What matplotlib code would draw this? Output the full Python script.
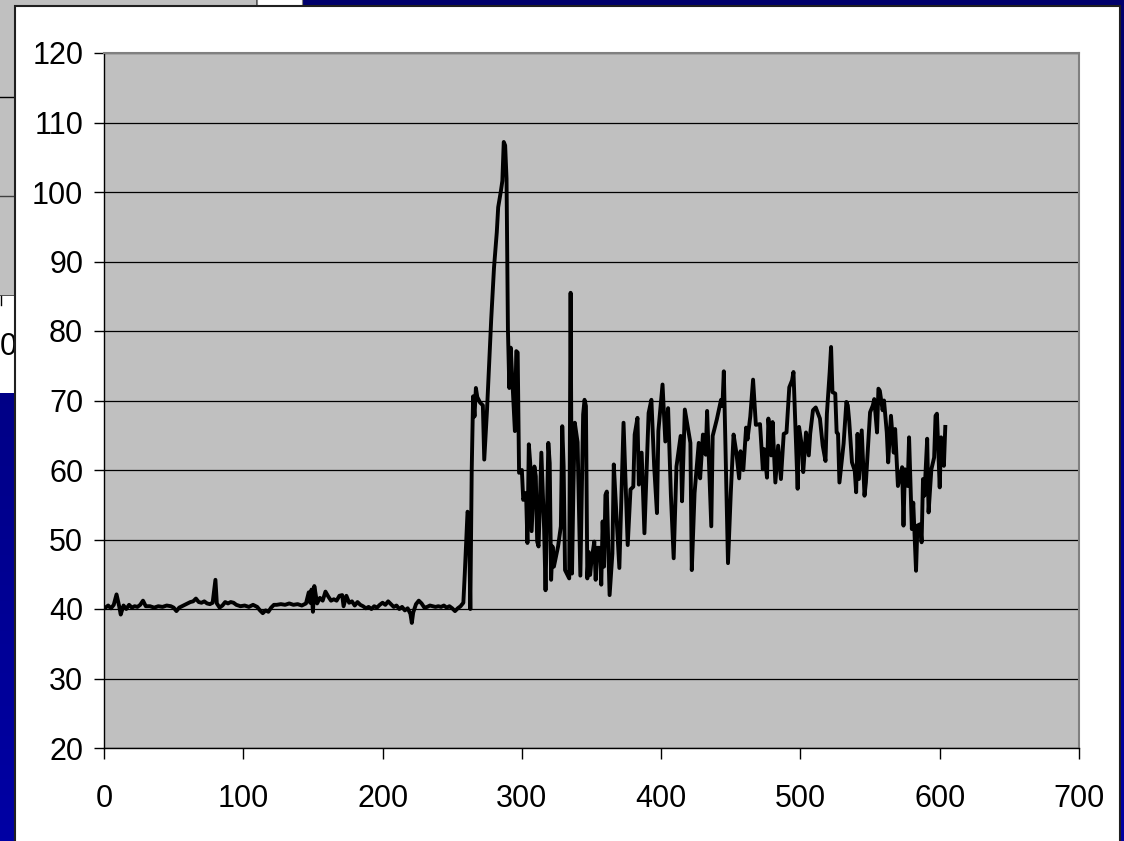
import matplotlib.pyplot as plt
import matplotlib.patches as mpatches
import numpy as np

plt.rcParams['font.family'] = ['Liberation Sans', 'DejaVu Sans']

# readings: sample number vs value
flat_x = [1, 3, 5, 7, 9, 11, 12, 14, 16, 18, 20, 22, 24, 26, 28, 30, 33, 36, 39, 42,
          45, 48, 50, 52, 54, 56, 58, 60, 62, 64, 66, 68, 70, 72, 74, 76, 78, 80, 81, 83,
          85, 87, 89, 91, 93, 95, 98, 101, 104, 107, 110, 112, 114, 116, 118, 120, 122, 124, 127, 130,
          133, 136, 139, 142, 145, 147, 148, 149, 150, 151, 153, 155, 157, 159, 161, 163, 165, 167, 169, 171,
          172, 174, 176, 178, 180, 182, 184, 186, 188, 190, 192, 194, 196, 198, 200, 202, 204, 206, 208, 210,
          212, 214, 216, 218, 220, 221, 222, 224, 226, 228, 230, 232, 234, 236, 238, 240, 242, 244, 246, 248,
          250, 252, 254, 256, 258]
flat_y = [40.2, 40.5, 40.1, 40.6, 42.1, 40.3, 39.2, 40.5, 40.0, 40.6, 40.2, 40.4, 40.3, 40.6, 41.2, 40.4, 40.4, 40.2, 40.4, 40.3,
          40.5, 40.4, 40.2, 39.7, 40.2, 40.4, 40.6, 40.8, 41.0, 41.1, 41.5, 41.0, 40.9, 41.1, 40.8, 40.7, 40.9, 44.2, 40.8, 40.2,
          40.5, 41.0, 40.8, 41.0, 40.9, 40.6, 40.4, 40.5, 40.3, 40.6, 40.3, 39.8, 39.4, 39.8, 39.6, 40.2, 40.6, 40.6, 40.7, 40.6,
          40.8, 40.6, 40.7, 40.5, 40.8, 42.4, 40.9, 42.8, 39.6, 43.3, 40.8, 41.6, 41.2, 42.5, 41.8, 41.2, 41.4, 41.2, 41.9, 42.0,
          40.4, 41.9, 40.9, 41.1, 40.5, 41.0, 40.6, 40.4, 40.1, 40.3, 40.0, 40.4, 40.2, 40.6, 40.9, 40.6, 41.1, 40.7, 40.3, 40.5,
          40.0, 40.3, 39.8, 40.1, 39.3, 38.0, 39.5, 40.7, 41.2, 40.8, 40.2, 40.3, 40.5, 40.4, 40.3, 40.4, 40.3, 40.5, 40.2, 40.4,
          40.1, 39.7, 40.1, 40.4, 40.9]

peak_x = [259, 261, 262, 263, 264, 265, 266, 267, 268, 270, 272, 273, 275, 278, 280, 282, 283, 285, 286, 287,
          288, 289, 290, 291, 292, 294, 295, 296, 297, 298, 300, 301, 303, 304, 305, 306, 307, 309, 310, 311,
          312, 314, 316, 317, 319, 320, 321, 322, 323, 325, 326, 328, 329, 330, 331, 334, 335, 336, 337]
peak_y = [45.0, 54.0, 53.5, 40.0, 60.0, 70.6, 67.7, 71.8, 70.5, 69.7, 69.3, 61.5, 68.7, 81.7, 89.1, 94.2, 97.8, 100.2, 101.6, 107.2,
          106.7, 101.9, 80.2, 71.8, 77.6, 69.7, 65.6, 77.1, 76.9, 59.6, 60.0, 55.7, 56.7, 49.5, 63.7, 61.0, 51.2, 60.5, 59.1, 49.7,
          49.0, 62.5, 51.4, 42.7, 63.9, 61.0, 44.2, 49.0, 46.1, 48.0, 49.0, 51.9, 66.3, 60.5, 45.6, 44.4, 85.5, 45.1, 57.2]

mid_x = [338, 340, 342, 344, 345, 346, 347, 348, 349, 350, 352, 353, 354, 356, 357, 358, 359, 360, 361, 363,
         365, 366, 368, 370, 373, 376, 378, 380, 381, 383, 384, 386, 388, 391, 393, 395, 397, 398, 401, 403,
         405, 407, 409, 411, 414, 415, 417, 419, 421, 422, 424, 427, 428, 430, 432, 433, 436, 437, 440, 443,
         444, 445, 448, 450, 452, 454, 456, 457, 459, 461, 462, 464, 466, 468]
mid_y = [66.8, 64.0, 44.8, 68.0, 70.1, 69.2, 44.4, 48.2, 44.9, 47.0, 49.7, 44.2, 48.8, 48.8, 43.5, 52.6, 46.1, 56.4, 56.9, 42.0,
         48.0, 60.8, 53.1, 45.9, 66.8, 49.2, 57.2, 57.6, 65.1, 67.5, 57.9, 62.5, 50.9, 68.2, 70.1, 60.5, 53.8, 65.6, 72.3, 64.1,
         68.9, 56.4, 47.3, 60.5, 64.9, 55.5, 68.7, 66.3, 63.9, 45.6, 56.7, 63.9, 58.8, 65.1, 62.2, 68.5, 51.9, 64.9, 67.3, 70.1,
         69.2, 74.2, 46.6, 56.7, 65.1, 62.5, 58.8, 62.7, 60.0, 66.1, 64.4, 67.7, 73.0, 66.5]

late_x = [471, 473, 474, 476, 477, 479, 480, 482, 484, 486, 488, 490, 492, 494, 495, 498, 499, 501, 502, 504,
          506, 507, 509, 511, 514, 516, 518, 519, 521, 522, 523, 525, 526, 527, 528, 531, 533, 534, 535, 537,
          539, 540, 541, 542, 544, 546, 547, 550, 552, 553, 555, 556, 557, 559, 560, 562, 563, 565, 567, 568,
          570, 573, 574, 575, 577, 578, 580, 581, 583, 584, 586, 587, 588, 589, 591, 592, 594, 596, 597, 598,
          600, 601, 602, 603, 604]
late_y = [66.6, 60.1, 63.0, 58.9, 67.4, 62.1, 66.9, 58.2, 63.5, 58.7, 65.2, 65.4, 71.9, 72.9, 74.1, 57.3, 66.2, 63.5, 59.7, 65.4,
          62.1, 65.2, 68.6, 69.0, 67.4, 63.5, 61.3, 68.1, 74.1, 77.7, 71.2, 71.0, 65.4, 65.2, 58.2, 63.8, 69.8, 69.3, 67.1, 61.1,
          59.9, 56.8, 65.2, 58.7, 65.7, 56.3, 58.2, 68.3, 69.3, 70.2, 65.4, 71.7, 71.4, 68.6, 70.0, 65.4, 61.1, 67.8, 62.5, 65.9,
          57.7, 60.4, 52.0, 60.1, 57.7, 64.7, 51.5, 55.3, 45.5, 52.0, 52.2, 49.6, 58.7, 56.3, 64.5, 53.9, 60.1, 61.8, 67.8, 68.1,
          57.5, 64.7, 63.5, 60.6, 66.2]

x_ticks = [0, 100, 200, 300, 400, 500, 600, 700]
y_ticks = [20, 30, 40, 50, 60, 70, 80, 90, 100, 110, 120]

W, H = 1124, 841
fig = plt.figure(figsize=(W / 100, H / 100), dpi=100)

# slide backdrop, drawn in pixel units
bg = fig.add_axes([0, 0, 1, 1], zorder=-5)
bg.set_xlim(0, W)
bg.set_ylim(H, 0)
bg.axis('off')
grad = np.linspace(0, 1, 256).reshape(-1, 1)
bg.imshow(grad, cmap=plt.matplotlib.colors.LinearSegmentedColormap.from_list('slide', ['#00006c', '#0000a4']),
          extent=[0, W, H, 0], aspect='auto', zorder=0)
# window left behind the chart
bg.add_patch(mpatches.Rectangle((-2, -2), 259, 298, facecolor='#c0c0c0', edgecolor='#404040', lw=1.2, zorder=1))
bg.plot([0, 257], [97, 97], color='black', lw=1, zorder=2)
bg.plot([0, 257], [196, 196], color='#404040', lw=1, zorder=2)
bg.add_patch(mpatches.Rectangle((-2, 296), 30, 97, facecolor='white', edgecolor='none', zorder=1))
bg.add_patch(mpatches.Rectangle((257, -2), 45, 8, facecolor='white', edgecolor='#808080', lw=0.8, zorder=1))
bg.plot([1, 1], [296, 305], color='black', lw=1, zorder=2)
bg.text(0, 347, '00', fontsize=22, va='center', ha='left', zorder=2)
# chart area
bg.add_patch(mpatches.Rectangle((15, 6), 1105, 850, facecolor='white', edgecolor='#202020', lw=1.5, zorder=3))

ax = fig.add_axes([104 / W, 1 - 748 / H, 975 / W, 695 / H])
ax.set_facecolor('#c0c0c0')
ax.plot(flat_x + peak_x + mid_x + late_x, flat_y + peak_y + mid_y + late_y,
        color='black', lw=2.8, zorder=3)

ax.set_xlim(0, 700)
ax.set_ylim(20, 120)
ax.set_xticks(x_ticks)
ax.set_yticks(y_ticks)
ax.yaxis.grid(True, color='black', lw=0.9)
ax.set_axisbelow(True)
for side in ['top', 'right']:
    ax.spines[side].set_color('#808080')
    ax.spines[side].set_linewidth(1.5)
for side in ['left', 'bottom']:
    ax.spines[side].set_color('black')
    ax.spines[side].set_linewidth(1.0)
ax.tick_params(axis='y', direction='out', length=7, width=1, pad=8, labelsize=22)
ax.tick_params(axis='x', direction='out', length=8, width=1, pad=18, labelsize=22)

fig.savefig('out.png', dpi=100)
